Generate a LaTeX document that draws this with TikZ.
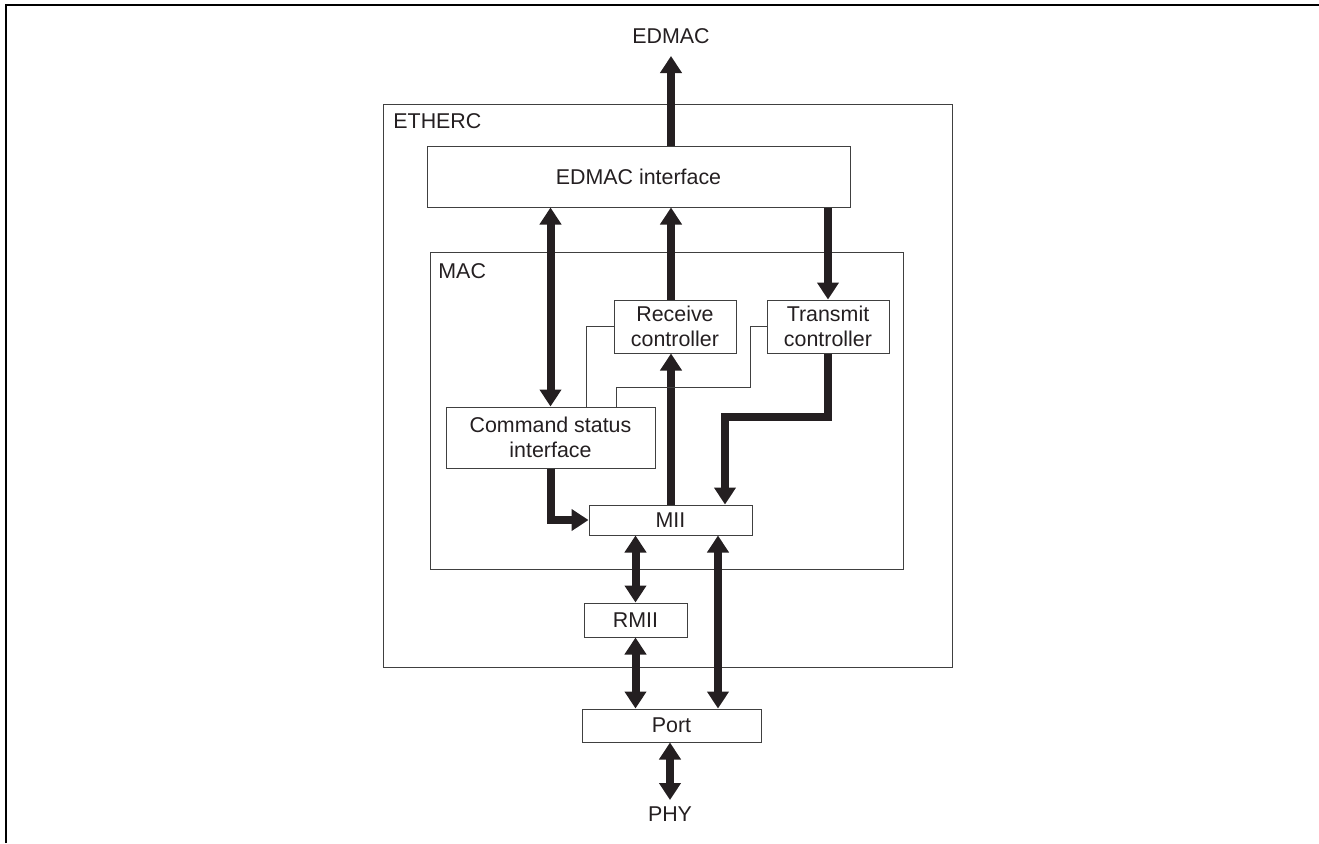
\documentclass[tikz,border=0pt]{standalone}
\usepackage{fontspec}
\setmainfont{Liberation Sans}
\usetikzlibrary{arrows.meta}
\newlength{\du}
\setlength{\du}{0.5pt}
\definecolor{buscolor}{rgb}{0.14,0.12,0.13}
\definecolor{boxcolor}{rgb}{0.25,0.25,0.25}
\tikzset{
  blockbox/.style={draw=boxcolor, line width=1\du, inner sep=0pt, align=center, text=buscolor},
  groupbox/.style={draw=boxcolor, line width=1\du, inner sep=0pt},
  busone/.style={draw=buscolor, line width=4pt, -{Triangle[width=10.5pt,length=8.5pt]}},
  bustwo/.style={draw=buscolor, line width=4pt, {Triangle[width=10.5pt,length=8.5pt]}-{Triangle[width=10.5pt,length=8.5pt]}},
  ctrlline/.style={draw=boxcolor, line width=1\du},
  caption/.style={inner sep=0pt, text=buscolor}
}
\begin{document}
\begin{tikzpicture}[x=\du,y=-\du,font=\fontsize{10.7}{12.5}\selectfont]
\useasboundingbox (0,0) rectangle (1319,843);
% page frame
\draw[line width=2\du] (6,843) -- (6,5) -- (1319,5);
% outer blocks
\node[groupbox, minimum width=569\du, minimum height=563\du] (etherc) at (667.5,385.5) {};
\node[caption, anchor=base west] (ethercname) at (393,128) {ETHERC};
\node[groupbox, minimum width=473\du, minimum height=317\du] (mac) at (666.5,410.5) {};
\node[caption, anchor=base west] (macname) at (438,278) {MAC};
% inner blocks
\node[blockbox, minimum width=423\du, minimum height=61\du] (edi) at (638.5,176.5) {EDMAC interface};
\node[blockbox, minimum width=122\du, minimum height=53\du] (rxc) at (675,326.5) {Receive\\controller};
\node[blockbox, minimum width=122\du, minimum height=53\du] (txc) at (828,326.5) {Transmit\\controller};
\node[blockbox, minimum width=209\du, minimum height=61\du] (csi) at (550.5,437.5) {Command status\\interface};
\node[blockbox, minimum width=163\du, minimum height=30\du] (mii) at (670.5,520) {MII};
\node[blockbox, minimum width=103\du, minimum height=34\du] (rmii) at (635.5,620) {RMII};
\node[blockbox, minimum width=179\du, minimum height=33\du] (port) at (671.5,725.5) {Port};
\node[caption, anchor=south, inner ysep=6pt] (edmac) at (671,56) {EDMAC};
\node[caption, anchor=north, inner ysep=3pt] (phy) at (670,800) {PHY};
% data buses
\draw[busone] (edi.north -| edmac.south) -- (edmac.south);
\draw[bustwo] (csi.north) -- (csi.north |- edi.south);
\draw[busone] (edmac.south |- rxc.north) -- (edmac.south |- edi.south);
\draw[busone] (txc.north |- edi.south) -- (txc.north);
\draw[busone] (edmac.south |- mii.north) -- (edmac.south |- rxc.south);
\coordinate (txbend) at (725,417);
\draw[busone] (txc.south) |- (txbend) -- (txbend |- mii.north);
\draw[busone] (csi.south) |- (mii.west);
\draw[bustwo] (rmii.north |- mii.south) -- (rmii.north);
\draw[bustwo] (rmii.south) -- (rmii.south |- port.north);
\coordinate (portcol) at (718,0);
\draw[bustwo] (portcol |- mii.south) -- (portcol |- port.north);
\draw[bustwo] (port.south -| phy.north) -- (phy.north);
% control lines
\coordinate (rxlink) at (586,0);
\draw[ctrlline] (rxc.west) -| (rxlink |- csi.north);
\coordinate (txlink) at (750,387);
\coordinate (csilink) at (616,0);
\draw[ctrlline] (txc.west) -| (txlink) -| (csilink |- csi.north);
\end{tikzpicture}
\end{document}
